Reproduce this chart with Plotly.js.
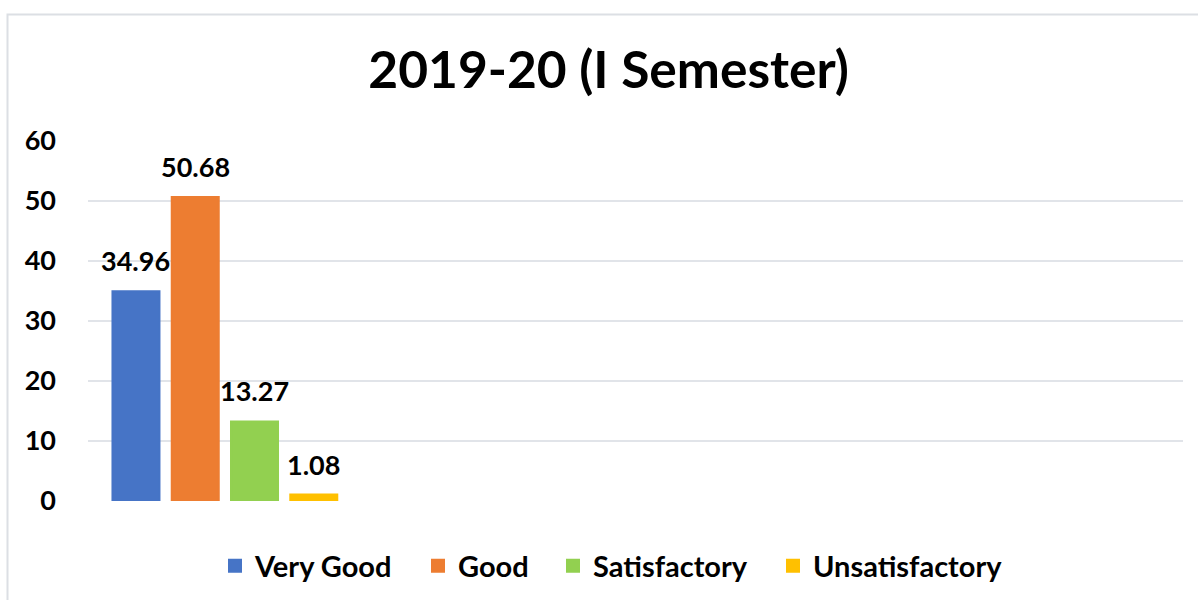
<!DOCTYPE html>
<html>
<head>
<meta charset="utf-8">
<script src="https://cdn.plot.ly/plotly-3.0.1.min.js"></script>
<style>
  html, body { margin: 0; padding: 0; background: #ffffff; }
  #chart { width: 1198px; height: 600px; }
</style>
</head>
<body>
<div id="chart"></div>
<script>
// ---- data ----
const chartTitle = "2019-20 (I Semester)";
const categories = ["2019-20 (I Semester)"];
const seriesNames = ["Very Good", "Good", "Satisfactory", "Unsatisfactory"];
const veryGood = [34.96];
const good = [50.68];
const satisfactory = [13.27];
const unsatisfactory = [1.08];
const yTickValues = [0, 10, 20, 30, 40, 50, 60];

// ---- styles ----
const colors = ["#4674C6", "#ED7D31", "#92D050", "#FFC000"];
const seriesValues = [veryGood, good, satisfactory, unsatisfactory];
const FONT = "Lato, 'Open Sans', sans-serif";

const W = 1198, H = 600;
const margin = { l: 88, r: 15, t: 141, b: 99, autoexpand: false };
const plotW = W - margin.l - margin.r;
const plotH = H - margin.t - margin.b;
const nSlots = 4;            // category slots on the x axis
const bargap = 0.134;
const edgeW = 2;             // bar outline (same colour) -> bigger legend swatches
const slotPx = plotW / nSlots * (1 - bargap) / seriesNames.length;
const bargroupgap = 1 - (49 - edgeW) / slotPx;

const px2x = p => (p - margin.l) / plotW;
const px2y = p => (H - margin.b - p) / plotH;

// legend text start positions (px) for the four separate legends
const legendTextPx = [255, 458, 593, 813];
const legendIds = ["legend", "legend2", "legend3", "legend4"];

const traces = seriesNames.map((name, i) => ({
  type: "bar",
  name: name,
  x: categories,
  y: seriesValues[i],
  legend: legendIds[i],
  showlegend: true,
  marker: { color: colors[i], line: { color: colors[i], width: edgeW } },
  hoverinfo: "name+y"
}));

const annotations = [];
seriesNames.forEach((name, i) => {
  seriesValues[i].forEach((v, j) => {
    annotations.push({
      x: categories[j], y: v, xref: "x", yref: "y",
      text: v.toFixed(2),
      showarrow: false,
      yanchor: "bottom",
      xanchor: "center",
      yshift: 12,
      xshift: (i - (seriesNames.length - 1) / 2) * slotPx,
      font: { family: FONT, size: 27, color: "#000000", weight: "bold" }
    });
  });
});

const layout = {
  width: W, height: H,
  margin: margin,
  showlegend: true,
  paper_bgcolor: "#ffffff",
  plot_bgcolor: "#ffffff",
  font: { family: FONT, color: "#000000" },
  title: {
    text: "<b>" + chartTitle + "</b>",
    font: { family: FONT, size: 51.5, color: "#000000" },
    x: 0.508, xanchor: "center",
    y: 0.883, yanchor: "middle"
  },
  barmode: "group",
  bargap: bargap,
  bargroupgap: bargroupgap,
  xaxis: {
    type: "category",
    range: [-0.5, nSlots - 0.5],
    showticklabels: false,
    showgrid: false,
    zeroline: false,
    showline: false,
    ticks: "",
    fixedrange: true
  },
  yaxis: {
    range: [0, 60],
    tickvals: yTickValues,
    ticktext: yTickValues.map(String),
    showgrid: true,
    gridcolor: "#e1e4e9",
    gridwidth: 2,
    zeroline: false,
    showline: false,
    ticks: "",
    ticklabelstandoff: 31,
    tickfont: { family: FONT, size: 27, color: "#000000", weight: "bold" },
    fixedrange: true
  },
  annotations: annotations,
  shapes: [{
    type: "path",
    xref: "paper", yref: "paper",
    path: "M " + px2x(7.5) + " " + px2y(600) + " L " + px2x(7.5) + " " + px2y(14.5) +
          " L " + px2x(1198) + " " + px2y(14.5),
    line: { color: "#dcdfe4", width: 2 },
    layer: "below"
  }]
};

legendIds.forEach((id, i) => {
  layout[id] = {
    visible: true,
    orientation: "h",
    x: px2x(legendTextPx[i] - 40), xanchor: "left",
    y: px2y(566), yanchor: "middle",
    bgcolor: "rgba(0,0,0,0)",
    font: { family: FONT, size: 29, color: "#000000", weight: "bold" },
    itemclick: false, itemdoubleclick: false
  };
});

Plotly.newPlot("chart", traces, layout, { displayModeBar: false });
</script>
</body>
</html>
